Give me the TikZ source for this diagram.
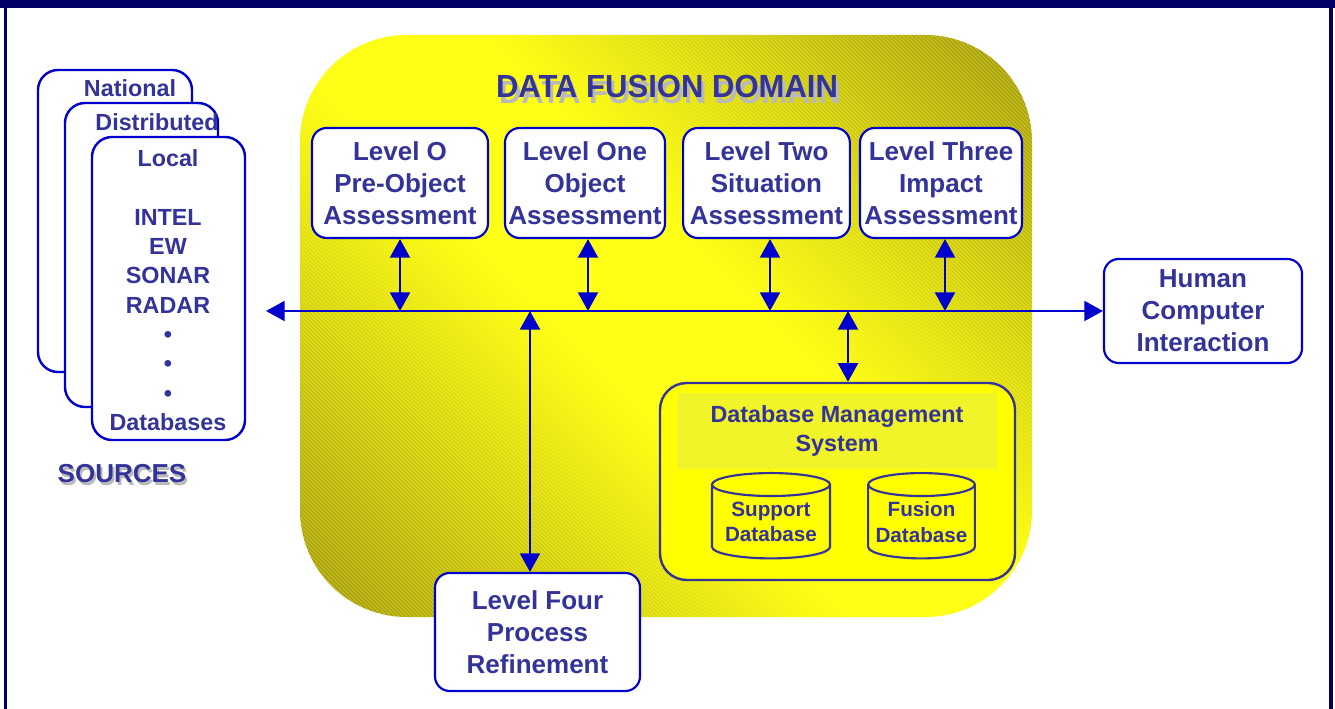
\documentclass[tikz,border=0pt]{standalone}
\usepackage{fontspec}
\setmainfont{Liberation Sans}
\usetikzlibrary{arrows.meta,shapes.geometric,patterns}
\definecolor{txtc}{RGB}{51,51,153}
\definecolor{bordc}{RGB}{0,0,204}
\definecolor{navy}{RGB}{0,0,102}
\definecolor{olive}{RGB}{172,164,0}
\definecolor{ylw}{RGB}{255,255,0}
\definecolor{dbin}{RGB}{240,244,40}
\pgfdeclareverticalshading{band}{100bp}{color(0bp)=(olive); color(18bp)=(olive); color(44bp)=(ylw); color(56bp)=(ylw); color(82bp)=(olive); color(100bp)=(olive)}
\begin{document}
\begin{tikzpicture}[x=0.75pt,y=-0.75pt,
  lvl/.style={draw=bordc,fill=white,line width=1.6pt,rounded corners=11pt,align=center,
    text=txtc,inner sep=0pt,font={\fontsize{19.5}{24}\selectfont\bfseries}},
  card/.style={draw=bordc,fill=white,line width=1.8pt,rounded corners=15pt,inner sep=0pt},
  cardtxt/.style={text=txtc,font={\fontsize{17.5}{22}\selectfont\bfseries},align=center,inner sep=0pt},
  dbl/.style={bordc,line width=1.6pt,{Triangle[width=15pt,length=14pt]}-{Triangle[width=15pt,length=14pt]}},
  cyl/.style={cylinder,shape border rotate=90,aspect=0.25,draw=txtc,line width=1.6pt,fill=ylw,
    text=txtc,align=center,inner sep=0pt,font={\fontsize{15.5}{19}\selectfont\bfseries}}]
\useasboundingbox (0,0) rectangle (1335,709);
% frame
\fill[navy] (0,0) rectangle (1335,8);
\fill[navy] (4,0) rectangle (7,709);
\fill[navy] (1329,0) rectangle (1333,709);
% domain
\shade[shading=band,shading angle=-45,rounded corners=80pt]
  (300,35) rectangle (1032,617);
\fill[pattern=north west lines,pattern color=white,opacity=0.35,rounded corners=80pt]
  (300,35) rectangle (1032,617);
\node[text=gray!55,font={\fontsize{24}{28}\selectfont\bfseries},xscale=0.97] at (670,92) {DATA FUSION DOMAIN};
\node[text=txtc,font={\fontsize{24}{28}\selectfont\bfseries},xscale=0.97] (title) at (667,86) {DATA FUSION DOMAIN};
% level boxes
\node[lvl,minimum width=132pt,minimum height=82.5pt] (L0) at (400,183) {Level O\\Pre-Object\\Assessment};
\node[lvl,minimum width=120pt,minimum height=82.5pt] (L1) at (585,183) {Level One\\Object\\Assessment};
\node[lvl,minimum width=125pt,minimum height=82.5pt] (L2) at (766.5,183) {Level Two\\Situation\\Assessment};
\node[lvl,minimum width=121.5pt,minimum height=82.5pt] (L3) at (941,183) {Level Three\\Impact\\Assessment};
\node[lvl,minimum width=148.5pt,minimum height=78pt] (hci) at (1203,311) {Human\\Computer\\Interaction};
\node[lvl,minimum width=153.75pt,minimum height=88.5pt] (L4) at (537.5,632) {Level Four\\Process\\Refinement};
% DBMS
\node[draw=txtc,fill=ylw,line width=1.8pt,rounded corners=20pt,minimum width=266.25pt,minimum height=147.75pt] (dbms) at (837.5,481.5) {};
\node[fill=dbin,minimum width=240pt,minimum height=57pt,inner sep=0pt,text=txtc,align=center,
  font={\fontsize{17.5}{22}\selectfont\bfseries}] (dbt) at (837,431) {Database Management\\System};
\node[cyl,minimum width=88.5pt,minimum height=64pt] (sdb) at (771,522) {Support\\Database};
\node[cyl,minimum width=80pt,minimum height=64pt] (fdb) at (921.5,522) {Fusion\\Database};
% sources
\node[card,minimum width=115.5pt,minimum height=226.5pt] (nat) at (115,221) {};
\node[cardtxt] (natt) at (130,88) {National};
\node[card,minimum width=114.75pt,minimum height=228pt] (dis) at (141.5,255) {};
\node[cardtxt] (dist) at (157,122) {Distributed};
\node[card,minimum width=114.75pt,minimum height=227.25pt] (loc) at (168.5,288.5) {};
\node[cardtxt] (loct) at (168,290) {Local\\[22pt]INTEL\\EW\\SONAR\\RADAR\\\textbullet\\\textbullet\\\textbullet\\Databases};
\node[text=gray!55,font={\fontsize{19.5}{24}\selectfont\bfseries}] at (124,477) {SOURCES};
\node[text=txtc,font={\fontsize{19.5}{24}\selectfont\bfseries}] (src) at (122,474) {SOURCES};
% bus
\coordinate (busL) at (266,311);
\coordinate (dx) at (848,311);
\coordinate (fx) at (530,311);
\draw[dbl] (busL) -- (hci.west);
\draw[dbl] (L0.south) -- (L0.south |- busL);
\draw[dbl] (L1.south -| 588,0) -- (588,311);
\draw[dbl] (L2.south -| 770,0) -- (770,311);
\draw[dbl] (L3.south -| 945,0) -- (945,311);
\draw[dbl] (dx) -- (dx |- dbms.north);
\draw[dbl] (fx |- L4.north) -- (fx);
\end{tikzpicture}
\end{document}
